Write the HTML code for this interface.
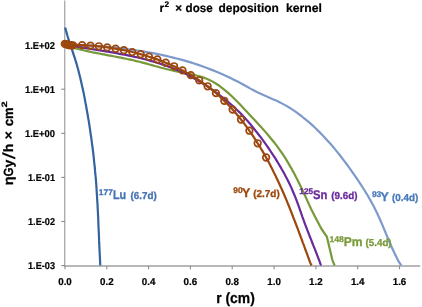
<!DOCTYPE html>
<html><head><meta charset="utf-8"><title>r2 x dose deposition kernel</title>
<style>
html,body{margin:0;padding:0;background:#fff;}
body{width:422px;height:307px;overflow:hidden;}
svg{display:block;font-family:"Liberation Sans",sans-serif;font-weight:bold;text-rendering:geometricPrecision;}
</style></head><body>
<svg width="422" height="307" viewBox="0 0 422 307">
<rect width="422" height="307" fill="#fff"/>
<!-- axes -->
<g stroke="#adadad" stroke-width="1.2" fill="none">
<line x1="64.7" y1="0.5" x2="64.7" y2="265.85" stroke-width="1.4"/>
<line x1="64" y1="265.95" x2="420.3" y2="265.95" stroke="#b8b8b8" stroke-width="1.9"/>
<line x1="65.0" y1="265.85" x2="65.0" y2="269.2" stroke="#8c8c8c" stroke-width="1.1"/>
<line x1="106.8" y1="265.85" x2="106.8" y2="269.2" stroke="#8c8c8c" stroke-width="1.1"/>
<line x1="148.6" y1="265.85" x2="148.6" y2="269.2" stroke="#8c8c8c" stroke-width="1.1"/>
<line x1="190.4" y1="265.85" x2="190.4" y2="269.2" stroke="#8c8c8c" stroke-width="1.1"/>
<line x1="232.2" y1="265.85" x2="232.2" y2="269.2" stroke="#8c8c8c" stroke-width="1.1"/>
<line x1="274.1" y1="265.85" x2="274.1" y2="269.2" stroke="#8c8c8c" stroke-width="1.1"/>
<line x1="315.9" y1="265.85" x2="315.9" y2="269.2" stroke="#8c8c8c" stroke-width="1.1"/>
<line x1="357.7" y1="265.85" x2="357.7" y2="269.2" stroke="#8c8c8c" stroke-width="1.1"/>
<line x1="399.5" y1="265.85" x2="399.5" y2="269.2" stroke="#8c8c8c" stroke-width="1.1"/>
<line x1="61.2" y1="45.1" x2="65.0" y2="45.1" stroke="#8c8c8c" stroke-width="1.1"/>
<line x1="61.2" y1="89.2" x2="65.0" y2="89.2" stroke="#8c8c8c" stroke-width="1.1"/>
<line x1="61.2" y1="133.3" x2="65.0" y2="133.3" stroke="#8c8c8c" stroke-width="1.1"/>
<line x1="61.2" y1="177.4" x2="65.0" y2="177.4" stroke="#8c8c8c" stroke-width="1.1"/>
<line x1="61.2" y1="221.5" x2="65.0" y2="221.5" stroke="#8c8c8c" stroke-width="1.1"/>
<line x1="61.2" y1="265.6" x2="65.0" y2="265.6" stroke="#8c8c8c" stroke-width="1.1"/>
</g>
<g font-size="10" fill="#000" stroke="#000" stroke-width="0.2">
<text x="65.0" y="284.6" text-anchor="middle" textLength="13.6" lengthAdjust="spacingAndGlyphs">0.0</text>
<text x="106.8" y="284.6" text-anchor="middle" textLength="13.6" lengthAdjust="spacingAndGlyphs">0.2</text>
<text x="148.6" y="284.6" text-anchor="middle" textLength="13.6" lengthAdjust="spacingAndGlyphs">0.4</text>
<text x="190.4" y="284.6" text-anchor="middle" textLength="13.6" lengthAdjust="spacingAndGlyphs">0.6</text>
<text x="232.2" y="284.6" text-anchor="middle" textLength="13.6" lengthAdjust="spacingAndGlyphs">0.8</text>
<text x="274.1" y="284.6" text-anchor="middle" textLength="13.6" lengthAdjust="spacingAndGlyphs">1.0</text>
<text x="315.9" y="284.6" text-anchor="middle" textLength="13.6" lengthAdjust="spacingAndGlyphs">1.2</text>
<text x="357.7" y="284.6" text-anchor="middle" textLength="13.6" lengthAdjust="spacingAndGlyphs">1.4</text>
<text x="399.5" y="284.6" text-anchor="middle" textLength="13.6" lengthAdjust="spacingAndGlyphs">1.6</text>
<text x="55" y="48.5" text-anchor="end" textLength="30" lengthAdjust="spacingAndGlyphs">1.E+02</text>
<text x="55" y="92.6" text-anchor="end" textLength="30" lengthAdjust="spacingAndGlyphs">1.E+01</text>
<text x="55" y="136.7" text-anchor="end" textLength="30" lengthAdjust="spacingAndGlyphs">1.E+00</text>
<text x="55" y="180.8" text-anchor="end" textLength="27" lengthAdjust="spacingAndGlyphs">1.E-01</text>
<text x="55" y="224.9" text-anchor="end" textLength="27" lengthAdjust="spacingAndGlyphs">1.E-02</text>
<text x="55" y="269.0" text-anchor="end" textLength="27" lengthAdjust="spacingAndGlyphs">1.E-03</text>
</g>
<g fill="none" stroke-linejoin="round" stroke-linecap="butt" stroke-width="2.2">
<polyline points="65.0,44.6 68.6,44.7 72.2,44.9 75.9,45.0 79.5,45.1 83.1,45.3 86.7,45.5 90.4,45.7 94.0,45.9 97.6,46.1 101.2,46.4 104.9,46.7 108.5,47.0 112.1,47.4 115.8,47.7 119.4,48.1 123.0,48.5 126.6,49.0 130.2,49.5 133.8,50.0 137.4,50.5 141.1,51.1 144.6,51.6 148.2,52.3 151.8,52.9 155.4,53.6 159.0,54.3 162.5,55.1 166.1,55.9 169.6,56.7 173.1,57.6 176.6,58.5 180.2,59.4 183.7,60.4 187.1,61.4 190.6,62.4 194.1,63.5 197.5,64.6 200.9,65.8 204.3,67.0 207.7,68.3 211.1,69.6 214.5,70.9 217.8,72.3 221.2,73.7 224.5,75.2 227.8,76.7 231.1,78.3 234.3,79.9 237.6,81.6 240.8,83.3 244.0,85.0 247.2,86.8 250.4,88.6 253.6,90.3 256.8,92.0 260.1,93.5 263.4,95.0 266.8,96.5 270.1,97.9 273.5,99.4 276.8,100.8 280.0,102.4 283.2,104.1 286.4,105.9 289.5,107.7 292.5,109.7 295.5,111.7 298.5,113.8 301.4,116.0 304.2,118.3 307.0,120.6 309.8,122.9 312.5,125.4 315.1,127.8 317.7,130.4 320.3,132.9 322.8,135.5 325.3,138.2 327.8,140.9 330.2,143.6 332.6,146.3 334.9,149.1 337.2,151.9 339.5,154.8 341.8,157.7 344.0,160.6 346.2,163.5 348.3,166.4 350.4,169.4 352.5,172.4 354.6,175.4 356.7,178.4 358.7,181.4 360.7,184.4 362.7,187.5 364.6,190.5 366.5,193.6 368.4,196.7 370.2,199.9 371.9,203.0 373.7,206.2 375.3,209.4 376.9,212.7 378.4,216.0 379.9,219.3 381.4,222.7 382.8,226.0 384.2,229.4 385.6,232.7 387.0,236.1 388.4,239.5 389.8,242.8 391.3,246.2 392.8,249.5 394.3,252.8 395.9,256.0 397.5,259.2 399.2,262.4 401.3,265.4" stroke="#7e9acd"/>
<polyline points="65.0,45.0 68.0,46.2 71.0,47.1 74.1,47.9 77.1,48.7 80.2,49.5 83.3,50.2 86.4,50.9 89.5,51.6 92.6,52.3 95.8,52.9 98.9,53.5 102.0,54.1 105.1,54.7 108.3,55.3 111.4,55.9 114.6,56.5 117.7,57.1 120.8,57.7 124.0,58.3 127.1,59.0 130.2,59.6 133.3,60.3 136.4,61.1 139.5,61.8 142.6,62.6 145.6,63.4 148.7,64.3 151.8,65.1 154.8,66.0 157.9,66.8 161.0,67.7 164.1,68.5 167.2,69.3 170.3,70.0 173.4,70.7 176.5,71.4 179.7,72.0 182.8,72.6 186.0,73.2 189.1,73.8 192.3,74.5 195.4,75.2 198.5,76.0 201.5,76.9 204.5,77.9 207.4,79.1 210.3,80.4 213.1,81.9 215.8,83.5 218.5,85.2 221.0,87.1 223.5,89.1 226.0,91.1 228.4,93.2 230.8,95.3 233.1,97.5 235.4,99.8 237.6,102.0 239.9,104.3 242.0,106.6 244.2,109.0 246.4,111.3 248.5,113.6 250.7,115.9 252.9,118.2 255.1,120.6 257.3,122.9 259.4,125.3 261.6,127.6 263.7,130.0 265.8,132.4 267.9,134.8 269.9,137.2 272.0,139.7 274.0,142.2 275.9,144.7 277.8,147.2 279.7,149.8 281.5,152.4 283.3,155.0 285.0,157.7 286.7,160.4 288.3,163.1 289.9,165.9 291.5,168.6 293.0,171.4 294.6,174.2 296.0,177.1 297.5,179.9 298.9,182.8 300.3,185.7 301.7,188.5 303.1,191.4 304.4,194.3 305.8,197.2 307.1,200.1 308.4,203.0 309.7,205.9 311.0,208.8 317.0,220.6 321.5,229.0 326.8,236.6 329.2,246.6 332.3,259.8 334.6,265.5" stroke="#78993a"/>
<polyline points="65.0,44.6 68.0,45.2 71.0,45.7 74.1,46.2 77.1,46.7 80.1,47.2 83.1,47.7 86.2,48.2 89.2,48.7 92.3,49.2 95.3,49.6 98.3,50.1 101.4,50.6 104.4,51.1 107.5,51.6 110.5,52.1 113.6,52.7 116.6,53.2 119.7,53.8 122.7,54.4 125.8,54.9 128.8,55.6 131.8,56.2 134.8,56.9 137.8,57.5 140.8,58.2 143.8,59.0 146.8,59.8 149.8,60.6 152.7,61.4 155.7,62.3 158.6,63.2 161.5,64.1 164.4,65.1 167.3,66.1 170.2,67.2 173.0,68.3 175.9,69.5 178.7,70.7 181.5,72.0 184.3,73.3 187.0,74.6 189.8,76.0 192.5,77.5 195.2,79.0 197.9,80.5 200.5,82.1 203.1,83.7 205.8,85.4 208.3,87.0 210.9,88.8 213.4,90.5 215.9,92.3 218.4,94.1 220.8,96.0 223.2,97.9 225.6,99.8 228.0,101.8 230.3,103.8 232.6,105.8 234.8,107.9 237.1,110.0 239.3,112.1 241.4,114.3 243.5,116.5 245.6,118.8 247.6,121.1 249.7,123.4 251.6,125.8 253.6,128.2 255.5,130.6 257.4,133.0 259.3,135.5 261.2,137.9 263.0,140.4 264.8,142.9 266.6,145.4 268.4,148.0 270.1,150.5 271.8,153.1 273.5,155.6 275.2,158.2 276.8,160.8 278.4,163.5 280.0,166.1 281.5,168.8 283.1,171.5 284.5,174.1 286.0,176.9 287.4,179.6 288.7,182.3 290.1,185.1 291.4,187.9 292.6,190.7 293.8,193.5 295.0,196.4 296.1,199.2 297.2,202.1 298.3,205.0 299.3,207.9 300.3,210.8 301.3,213.7 302.3,216.6 303.4,219.5 304.4,222.4 305.5,225.3 306.6,228.2 307.7,231.1 308.8,233.9 309.9,236.8 311.1,239.6 312.2,242.5 313.3,245.4 314.5,248.2 315.6,251.1 316.7,253.9 317.8,256.8 318.9,259.7 320.0,262.6 321.0,265.5" stroke="#6a2a9c"/>
<polyline points="65.2,27.4 66.2,31.4 67.3,35.3 68.5,39.2 69.8,43.1 71.1,47.0 72.4,50.9 73.7,54.8 75.0,58.7 76.2,62.6 77.3,66.5 78.4,70.5 79.4,74.4 80.4,78.4 81.3,82.4 82.2,86.4 83.1,90.4 83.9,94.4 84.7,98.4 85.4,102.4 86.2,106.5 86.9,110.5 87.6,114.5 88.3,118.6 89.0,122.6 89.6,126.7 90.2,130.7 90.8,134.8 91.4,138.8 91.9,142.9 92.5,147.0 93.0,151.0 93.5,155.1 93.9,159.2 94.3,163.3 94.8,167.4 95.1,171.4 95.5,175.5 95.9,179.6 96.2,183.7 96.5,187.8 96.7,191.8 97.0,195.9 97.2,200.0 97.5,204.1 97.7,208.2 97.9,212.3 98.1,216.4 98.3,220.5 98.4,224.6 98.6,228.6 98.8,232.7 99.0,236.8 99.1,240.9 99.3,245.0 99.5,249.1 99.7,253.2 99.9,257.3 100.1,261.4 100.3,265.5" stroke="#34639f"/>
<polyline points="65.0,44.5 68.2,44.7 71.1,44.8 74.1,44.8 77.1,44.9 80.1,45.0 83.1,45.1 86.1,45.3 89.1,45.5 92.1,45.7 95.1,46.0 98.2,46.3 101.2,46.6 104.2,47.0 107.2,47.4 110.3,47.8 113.3,48.3 116.3,48.8 119.3,49.3 122.3,49.9 125.3,50.5 128.3,51.1 131.3,51.8 134.3,52.5 137.2,53.3 140.2,54.1 143.2,54.9 146.1,55.8 149.0,56.7 151.9,57.6 154.8,58.6 157.7,59.6 160.5,60.7 163.4,61.8 166.2,62.9 169.0,64.1 171.8,65.3 174.6,66.5 177.3,67.8 180.0,69.2 182.7,70.6 185.4,72.0 188.0,73.4 190.6,74.9 193.2,76.5 195.7,78.1 198.3,79.7 200.8,81.4 203.2,83.1 205.7,84.9 208.1,86.7 210.4,88.5 212.8,90.4 215.1,92.3 217.3,94.3 219.5,96.3 221.7,98.4 223.9,100.5 226.0,102.6 228.2,104.7 230.2,106.9 232.3,109.2 234.3,111.4 236.3,113.7 238.2,116.0 240.1,118.4 242.0,120.8 243.9,123.2 245.7,125.6 247.5,128.1 249.3,130.6 251.0,133.1 252.8,135.6 254.4,138.1 256.1,140.7 257.7,143.3 259.4,145.9 260.9,148.5 262.5,151.1 264.0,153.8 265.5,156.5 267.0,159.1 268.5,161.8 269.9,164.5 271.3,167.2 272.7,170.0 274.0,172.7 275.4,175.4 276.7,178.2 278.0,180.9 279.3,183.7 280.5,186.5 281.8,189.3 283.0,192.0 284.2,194.8 285.4,197.6 286.6,200.4 287.7,203.2 288.9,206.0 290.0,208.9 291.1,211.7 292.2,214.5 293.3,217.3 294.4,220.1 295.5,223.0 296.6,225.8 297.7,228.6 298.7,231.5 299.8,234.3 300.8,237.1 301.9,240.0 302.9,242.8 304.0,245.6 305.0,248.5 306.1,251.3 307.1,254.1 308.1,256.9 309.2,259.8 310.2,262.6 311.5,265.5" stroke="#9c470d"/>
</g>
<g fill="none" stroke="#9c470d" stroke-width="1.7">
<circle cx="64.8" cy="43.9" r="3.3"/>
<circle cx="66.0" cy="44.1" r="3.3"/>
<circle cx="67.3" cy="44.6" r="3.3"/>
<circle cx="68.7" cy="45.0" r="3.3"/>
<circle cx="70.2" cy="45.2" r="3.3"/>
<circle cx="71.6" cy="45.3" r="3.3"/>
<circle cx="72.9" cy="45.3" r="3.3"/>
<circle cx="82.1" cy="45.1" r="3.3"/>
<circle cx="90.5" cy="45.6" r="3.3"/>
<circle cx="98.8" cy="46.3" r="3.3"/>
<circle cx="107.2" cy="47.4" r="3.3"/>
<circle cx="115.6" cy="48.7" r="3.3"/>
<circle cx="123.9" cy="50.2" r="3.3"/>
<circle cx="132.3" cy="52.1" r="3.3"/>
<circle cx="140.7" cy="54.2" r="3.3"/>
<circle cx="149.0" cy="56.7" r="3.3"/>
<circle cx="157.4" cy="59.5" r="3.3"/>
<circle cx="165.7" cy="62.7" r="3.3"/>
<circle cx="174.1" cy="66.3" r="3.3"/>
<circle cx="182.5" cy="70.4" r="3.3"/>
<circle cx="190.8" cy="75.1" r="3.3"/>
<circle cx="199.2" cy="80.3" r="3.3"/>
<circle cx="207.6" cy="86.3" r="3.3"/>
<circle cx="215.9" cy="93.1" r="3.3"/>
<circle cx="224.3" cy="100.8" r="3.3"/>
<circle cx="232.6" cy="109.6" r="3.3"/>
<circle cx="241.0" cy="119.5" r="3.3"/>
<circle cx="249.4" cy="130.7" r="3.3"/>
<circle cx="257.7" cy="143.3" r="3.3"/>
<circle cx="266.1" cy="157.5" r="3.3"/>
</g>
<g fill="#4472b4" stroke="#4472b4" stroke-width="0.3"><text x="98.8" y="194.5" font-size="8.3" textLength="14" lengthAdjust="spacingAndGlyphs">177</text><text x="113.0" y="198.7" font-size="12.6" textLength="13.2" lengthAdjust="spacingAndGlyphs">Lu</text><text x="130.4" y="199.0" font-size="10.1" textLength="26.3" lengthAdjust="spacingAndGlyphs">(6.7d)</text></g>
<g fill="#9c470d" stroke="#9c470d" stroke-width="0.3"><text x="233.3" y="193.2" font-size="8.3" textLength="9.4" lengthAdjust="spacingAndGlyphs">90</text><text x="242.0" y="197.4" font-size="12.6" textLength="8.3" lengthAdjust="spacingAndGlyphs">Y</text><text x="253.2" y="197.4" font-size="10.1" textLength="26.5" lengthAdjust="spacingAndGlyphs">(2.7d)</text></g>
<g fill="#6a2a9c" stroke="#6a2a9c" stroke-width="0.3"><text x="299.3" y="194.3" font-size="8.3" textLength="13.8" lengthAdjust="spacingAndGlyphs">125</text><text x="312.9" y="198.5" font-size="12.6" textLength="14.4" lengthAdjust="spacingAndGlyphs">Sn</text><text x="331.2" y="198.7" font-size="10.1" textLength="26.3" lengthAdjust="spacingAndGlyphs">(9.6d)</text></g>
<g fill="#4a79bd" stroke="#4a79bd" stroke-width="0.3"><text x="371.9" y="196.5" font-size="8.3" textLength="9.4" lengthAdjust="spacingAndGlyphs">93</text><text x="380.6" y="200.7" font-size="12.6" textLength="8.3" lengthAdjust="spacingAndGlyphs">Y</text><text x="392.0" y="200.9" font-size="10.1" textLength="26.3" lengthAdjust="spacingAndGlyphs">(0.4d)</text></g>
<g fill="#7b9b3a" stroke="#7b9b3a" stroke-width="0.3"><text x="329.5" y="241.9" font-size="8.3" textLength="14.4" lengthAdjust="spacingAndGlyphs">148</text><text x="343.8" y="246.1" font-size="12.6" textLength="18.8" lengthAdjust="spacingAndGlyphs">Pm</text><text x="365.6" y="246.1" font-size="10.1" textLength="26.0" lengthAdjust="spacingAndGlyphs">(5.4d)</text></g>
<g fill="#000" font-size="12" stroke="#000" stroke-width="0.2">
<text x="159.4" y="11.5" textLength="4.6" lengthAdjust="spacingAndGlyphs">r</text>
<text x="164.6" y="7.4" font-size="8" textLength="4.6" lengthAdjust="spacingAndGlyphs">2</text>
<text x="175.2" y="11.5" textLength="6.8" lengthAdjust="spacingAndGlyphs">×</text>
<text x="185.6" y="11.5" textLength="27.1" lengthAdjust="spacingAndGlyphs">dose</text>
<text x="218.5" y="11.5" textLength="60.3" lengthAdjust="spacingAndGlyphs">deposition</text>
<text x="286" y="11.5" textLength="36" lengthAdjust="spacingAndGlyphs">kernel</text>
</g>
<text x="216.2" y="302.7" font-size="15" textLength="38.6" lengthAdjust="spacingAndGlyphs" fill="#000" stroke="#000" stroke-width="0.25">r (cm)</text>
<g transform="translate(12.5,0) rotate(-90)" fill="#000" font-size="13.4" stroke="#000" stroke-width="0.25">
<text x="-185.2" y="0" textLength="8.9" lengthAdjust="spacingAndGlyphs">η</text>
<text x="-176.5" y="0" textLength="9" lengthAdjust="spacingAndGlyphs">G</text>
<text x="-167.4" y="0" textLength="7.8" lengthAdjust="spacingAndGlyphs">y</text>
<text x="-159.3" y="2.6" font-size="17.5" font-weight="normal" stroke-width="0.15" textLength="7" lengthAdjust="spacingAndGlyphs">/</text>
<text x="-152.2" y="0" textLength="8.6" lengthAdjust="spacingAndGlyphs">h</text>
<text x="-139.5" y="0" textLength="8.5" lengthAdjust="spacingAndGlyphs">×</text>
<text x="-126.2" y="0" textLength="7.4" lengthAdjust="spacingAndGlyphs">c</text>
<text x="-119.1" y="0" textLength="11.5" lengthAdjust="spacingAndGlyphs">m</text>
<text x="-107.6" y="-5.6" font-size="7.8" textLength="6.2" lengthAdjust="spacingAndGlyphs">2</text>
</g>
</svg>
</body></html>
